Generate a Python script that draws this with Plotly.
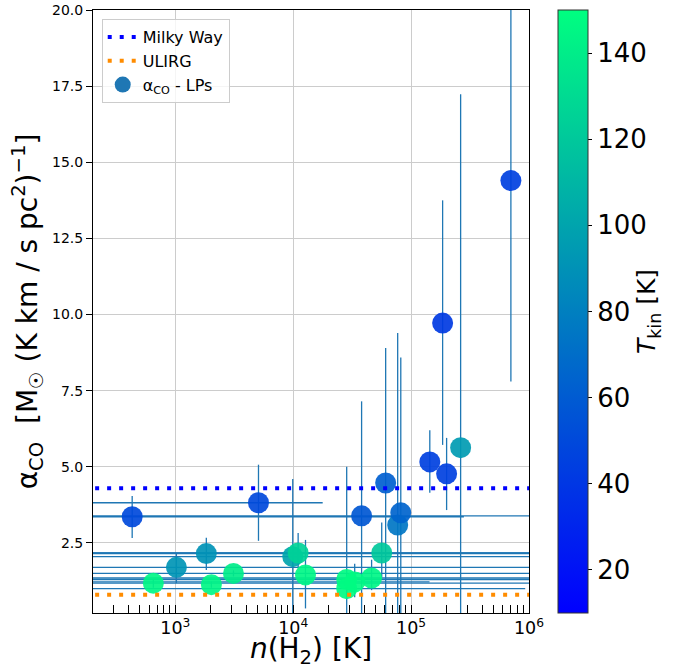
import math
import plotly.graph_objects as go

# ---- data ----
n_h2 = [430, 650, 1020, 1830, 2020, 3110, 5070, 9900, 11000, 12700,
        28400, 28400, 33200, 38000, 46200, 56300, 60800, 76900, 81700,
        144000, 185000, 200000, 263000, 702000]
alpha_co = [3.36, 1.18, 1.70, 2.15, 1.13, 1.50, 3.82, 2.05, 2.17, 1.45,
            1.30, 1.00, 1.22, 3.39, 1.35, 2.17, 4.47, 3.09, 3.49,
            5.16, 9.72, 4.77, 5.63, 14.40]
t_kin = [50, 145, 92, 90, 145, 140, 50, 100, 125, 145,
         148, 148, 148, 58, 145, 120, 62, 75, 65,
         45, 42, 45, 95, 45]
alpha_err_hi = [0.68, 0.15, 0.47, 0.52, 0.10, 0.10, 1.25, 2.55, 0.66, 1.15,
                3.70, 0.20, 0.60, 3.76, 0.60, 1.00, 4.43, 6.30, 5.10,
                1.04, 4.03, 1.18, 11.60, 6.00]
alpha_err_lo = [0.70, 0.15, 0.52, 0.54, 0.10, 0.10, 1.25, 2.00, 0.50, 1.10,
                1.30, 0.20, 0.50, 3.40, 0.40, 0.80, 4.47, 3.10, 3.50,
                1.01, 4.00, 1.19, 5.63, 6.60]
n_err_hi = [280000, 1e7, 1e7, 1e7, 0, 1e7, 12700, 1e7, 1e7, 0,
            1e7, 900000, 110000, 1e7, 1e7, 1e7, 0, 0, 0,
            0, 0, 0, 0, 0]
n_err_lo = [1e7, 1e7, 1e7, 1e7, 0, 1e7, 1e7, 1e7, 1e7, 0,
            1e7, 1e7, 1e7, 1e7, 1e7, 1e7, 0, 0, 0,
            0, 0, 0, 0, 0]

MW_ALPHA = 4.3
ULIRG_ALPHA = 0.8
T_MIN, T_MAX = 10, 150
X_MIN, X_MAX = 200, 1e6
Y_MIN, Y_MAX = 0.2, 20.0

FONT = "DejaVu Sans"
C0 = "#1f77b4"

fig = go.Figure()

fig.add_trace(go.Scatter(
    x=n_h2, y=alpha_co, mode="markers", showlegend=False,
    marker=dict(size=21, color=t_kin, colorscale=[[0, "rgb(0,0,255)"], [1, "rgb(0,255,128)"]],
                cmin=T_MIN, cmax=T_MAX, opacity=0.92, line=dict(width=0),
                colorbar=dict(
                    x=1.0665, xanchor="left", y=0.5, yanchor="middle",
                    len=1.0, thickness=30, xpad=0, ypad=0,
                    outlinewidth=1, outlinecolor="#333",
                    ticks="outside", ticklen=4, tickcolor="black",
                    tickvals=[20, 40, 60, 80, 100, 120, 140],
                    tickfont=dict(family=FONT, size=26, color="black"),
                    title=dict(text="<i>T</i><sub>kin</sub> [K]", side="right",
                               font=dict(family=FONT, size=25, color="black")),
                )),
    error_y=dict(type="data", symmetric=False, array=alpha_err_hi, arrayminus=alpha_err_lo,
                 color=C0, thickness=1.3, width=0),
    error_x=dict(type="data", symmetric=False, array=n_err_hi, arrayminus=n_err_lo,
                 color=C0, thickness=1.3, width=0),
))

fig.add_trace(go.Scatter(
    x=[X_MIN / 10, X_MAX * 10], y=[MW_ALPHA, MW_ALPHA], mode="lines",
    name="Milky Way", legendrank=1,
    line=dict(color="#0000ff", width=4, dash="4px,8px"),
))
fig.add_trace(go.Scatter(
    x=[X_MIN / 10, X_MAX * 10], y=[ULIRG_ALPHA, ULIRG_ALPHA], mode="lines",
    name="ULIRG", legendrank=2,
    line=dict(color="#ff8c00", width=4, dash="4px,8px"),
))
fig.add_trace(go.Scatter(
    x=[None], y=[None], mode="markers", name="α<sub>CO</sub> - LPs", legendrank=3,
    marker=dict(size=20, color=C0),
))

fig.update_layout(
    width=692, height=669,
    margin=dict(l=93, r=163, t=10, b=56, autoexpand=False),
    paper_bgcolor="white", plot_bgcolor="white",
    font=dict(family=FONT, color="black"),
    legend=dict(x=0.02, y=0.985, xanchor="left", yanchor="top",
                bgcolor="rgba(255,255,255,0.8)", bordercolor="#cccccc", borderwidth=1,
                font=dict(family=FONT, size=16, color="black")),
    xaxis=dict(
        type="log", range=[math.log10(X_MIN), math.log10(X_MAX)], automargin=False,
        showline=True, linecolor="black", linewidth=1, mirror=True,
        ticks="inside", ticklen=8, tickcolor="black", dtick=1, exponentformat="power",
        tickfont=dict(family=FONT, size=14, color="black"),
        showgrid=True, gridcolor="#cccccc", gridwidth=1, zeroline=False,
        minor=dict(ticks="inside", ticklen=8, tickcolor="black", dtick="D1", showgrid=False),
        title=dict(text="<i>n</i>(H<sub>2</sub>) [K]", font=dict(family=FONT, size=28, color="black"),
                   standoff=5),
    ),
    yaxis=dict(
        range=[Y_MIN, Y_MAX], tick0=0, dtick=2.5, tickformat=".1f", automargin=False,
        showline=True, linecolor="black", linewidth=1, mirror=True,
        ticks="outside", ticklen=6, tickcolor="black",
        tickfont=dict(family=FONT, size=14, color="black"),
        showgrid=True, gridcolor="#cccccc", gridwidth=1, zeroline=False,
        title=dict(text="α<sub>CO</sub>  [M<sub>☉</sub> (K km / s pc<sup>2</sup>)<sup>−1</sup>]",
                   font=dict(family=FONT, size=28, color="black"), standoff=6),
    ),
)

fig.write_html("out.html", config={"displayModeBar": False},
               post_script="document.body.style.margin='0';")
